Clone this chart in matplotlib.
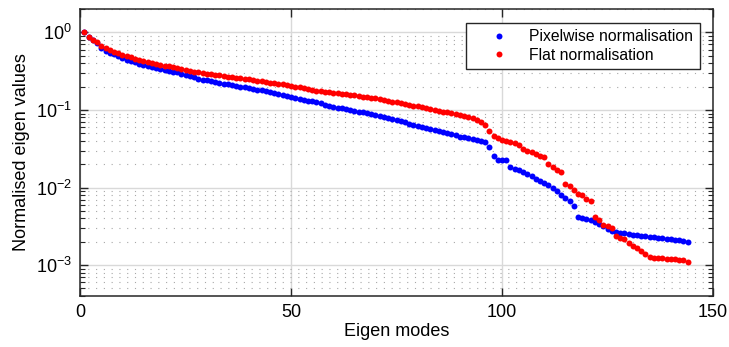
import numpy as np
import matplotlib
matplotlib.use("Agg")
import matplotlib.pyplot as plt
from matplotlib.ticker import LogLocator, FixedLocator

plt.rcParams["font.family"] = ["Liberation Sans", "DejaVu Sans"]
plt.rcParams["mathtext.fontset"] = "custom"
plt.rcParams["mathtext.rm"] = "Liberation Sans"

# eigen values (mode index 1..144)
pixelwise = [
    1.000, 0.863, 0.794, 0.724, 0.631, 0.582, 0.550, 0.519, 0.490, 0.462,
    0.445, 0.428, 0.411, 0.395, 0.380, 0.370, 0.360, 0.350, 0.340, 0.331,
    0.322, 0.313, 0.305, 0.295, 0.285, 0.275, 0.264, 0.252, 0.245, 0.240,
    0.234, 0.229, 0.224, 0.219, 0.214, 0.209, 0.204, 0.200, 0.195, 0.191,
    0.186, 0.182, 0.179, 0.174, 0.169, 0.164, 0.160, 0.155, 0.150, 0.146,
    0.142, 0.138, 0.135, 0.132, 0.129, 0.125, 0.122, 0.117, 0.114, 0.110,
    0.107, 0.105, 0.102, 0.100, 0.0977, 0.0955, 0.0933, 0.0912, 0.0895, 0.0867,
    0.0839, 0.0813, 0.0787, 0.0762, 0.0738, 0.0714, 0.0692, 0.0668, 0.0646, 0.0624,
    0.0605, 0.0586, 0.0568, 0.0550, 0.0535, 0.0519, 0.0504, 0.0490, 0.0473, 0.0454,
    0.0443, 0.0432, 0.0422, 0.0411, 0.0400, 0.0389, 0.0331, 0.0258, 0.0227, 0.0227,
    0.0224, 0.0186, 0.0174, 0.0166, 0.0158, 0.0151, 0.0141, 0.0130, 0.0122, 0.0115,
    0.0107, 0.00989, 0.00891, 0.00813, 0.00733, 0.00661, 0.00575, 0.00412, 0.00403, 0.00394,
    0.00382, 0.00363, 0.00343, 0.00316, 0.00292, 0.00279, 0.00269, 0.00263, 0.00258, 0.00253,
    0.00248, 0.00243, 0.00239, 0.00236, 0.00232, 0.00229, 0.00226, 0.00223, 0.00220, 0.00216,
    0.00213, 0.00209, 0.00204, 0.00200,
]
flat = [
    1.000, 0.871, 0.804, 0.741, 0.668, 0.631, 0.596, 0.565, 0.537, 0.513,
    0.494, 0.476, 0.459, 0.443, 0.427, 0.415, 0.405, 0.394, 0.384, 0.374,
    0.365, 0.356, 0.347, 0.337, 0.329, 0.321, 0.313, 0.305, 0.299, 0.294,
    0.288, 0.284, 0.279, 0.274, 0.269, 0.265, 0.260, 0.256, 0.251, 0.247,
    0.243, 0.239, 0.234, 0.230, 0.225, 0.221, 0.217, 0.213, 0.208, 0.204,
    0.200, 0.195, 0.191, 0.186, 0.182, 0.178, 0.175, 0.172, 0.170, 0.167,
    0.165, 0.162, 0.160, 0.157, 0.154, 0.151, 0.149, 0.147, 0.144, 0.141,
    0.137, 0.134, 0.131, 0.128, 0.125, 0.122, 0.120, 0.117, 0.114, 0.112,
    0.109, 0.106, 0.104, 0.101, 0.0979, 0.0955, 0.0931, 0.0908, 0.0885, 0.0863,
    0.0836, 0.0809, 0.0782, 0.0750, 0.0708, 0.0631, 0.0537, 0.0468, 0.0432, 0.0412,
    0.0398, 0.0385, 0.0372, 0.0355, 0.0316, 0.0295, 0.0285, 0.0269, 0.0257, 0.0251,
    0.0200, 0.0186, 0.0166, 0.0158, 0.0112, 0.0106, 0.00933, 0.00832, 0.00794, 0.00708,
    0.00661, 0.00417, 0.00380, 0.00331, 0.00316, 0.00302, 0.00240, 0.00224, 0.00214, 0.00191,
    0.00178, 0.00166, 0.00153, 0.00141, 0.00129, 0.00124, 0.00123, 0.00122, 0.00120, 0.00120,
    0.00119, 0.00117, 0.00115, 0.00111,
]
modes = np.arange(1, len(flat) + 1)
labels = ["Pixelwise normalisation", "Flat normalisation"]


def main():
    fig = plt.figure(figsize=(7.29, 3.47), dpi=100)
    ax = fig.add_axes([0.110, 0.147, 0.868, 0.827])

    ax.plot(modes, pixelwise, "o", color="#0000ff", ms=4.3, mec="none", label=labels[0])
    ax.plot(modes, flat, "o", color="#ff0000", ms=4.3, mec="none", label=labels[1])

    ax.set_yscale("log")
    ax.set_xlim(0, 150)
    ax.set_ylim(4e-4, 2)
    ax.set_xticks([0, 50, 100, 150])
    ax.yaxis.set_major_locator(FixedLocator([1e-3, 1e-2, 1e-1, 1e0]))
    ax.yaxis.set_minor_locator(LogLocator(base=10, subs=np.arange(2, 10), numticks=20))

    # matlab-ish grid: solid major, dotted minor
    ax.grid(True, which="major", color="#d9d9d9", lw=1.0, ls="-")
    ax.grid(True, which="minor", axis="y", color="#a8a8a8", lw=0.8, ls=(0, (1, 6)))
    ax.set_axisbelow(True)

    ax.tick_params(which="both", direction="in", top=True, right=True,
                   labelsize=13, color="#262626")
    ax.tick_params(which="major", length=6, width=1.0, pad=6)
    ax.tick_params(which="minor", length=3.5, width=0.8)
    for s in ax.spines.values():
        s.set_color("#262626")
        s.set_linewidth(1.1)

    ax.set_xlabel("Eigen modes", fontsize=13, labelpad=1)
    ax.set_ylabel("Normalised eigen values", fontsize=13, labelpad=4)

    leg = ax.legend(loc="upper right", bbox_to_anchor=(0.979, 0.951), fontsize=11.3,
                    fancybox=False, framealpha=1, edgecolor="#262626",
                    handlelength=3.4, handletextpad=0.25, borderpad=0.4,
                    labelspacing=0.2, borderaxespad=0, numpoints=1)
    leg.get_frame().set_linewidth(1.0)

    fig.savefig("out.png", dpi=100)


if __name__ == "__main__":
    main()
